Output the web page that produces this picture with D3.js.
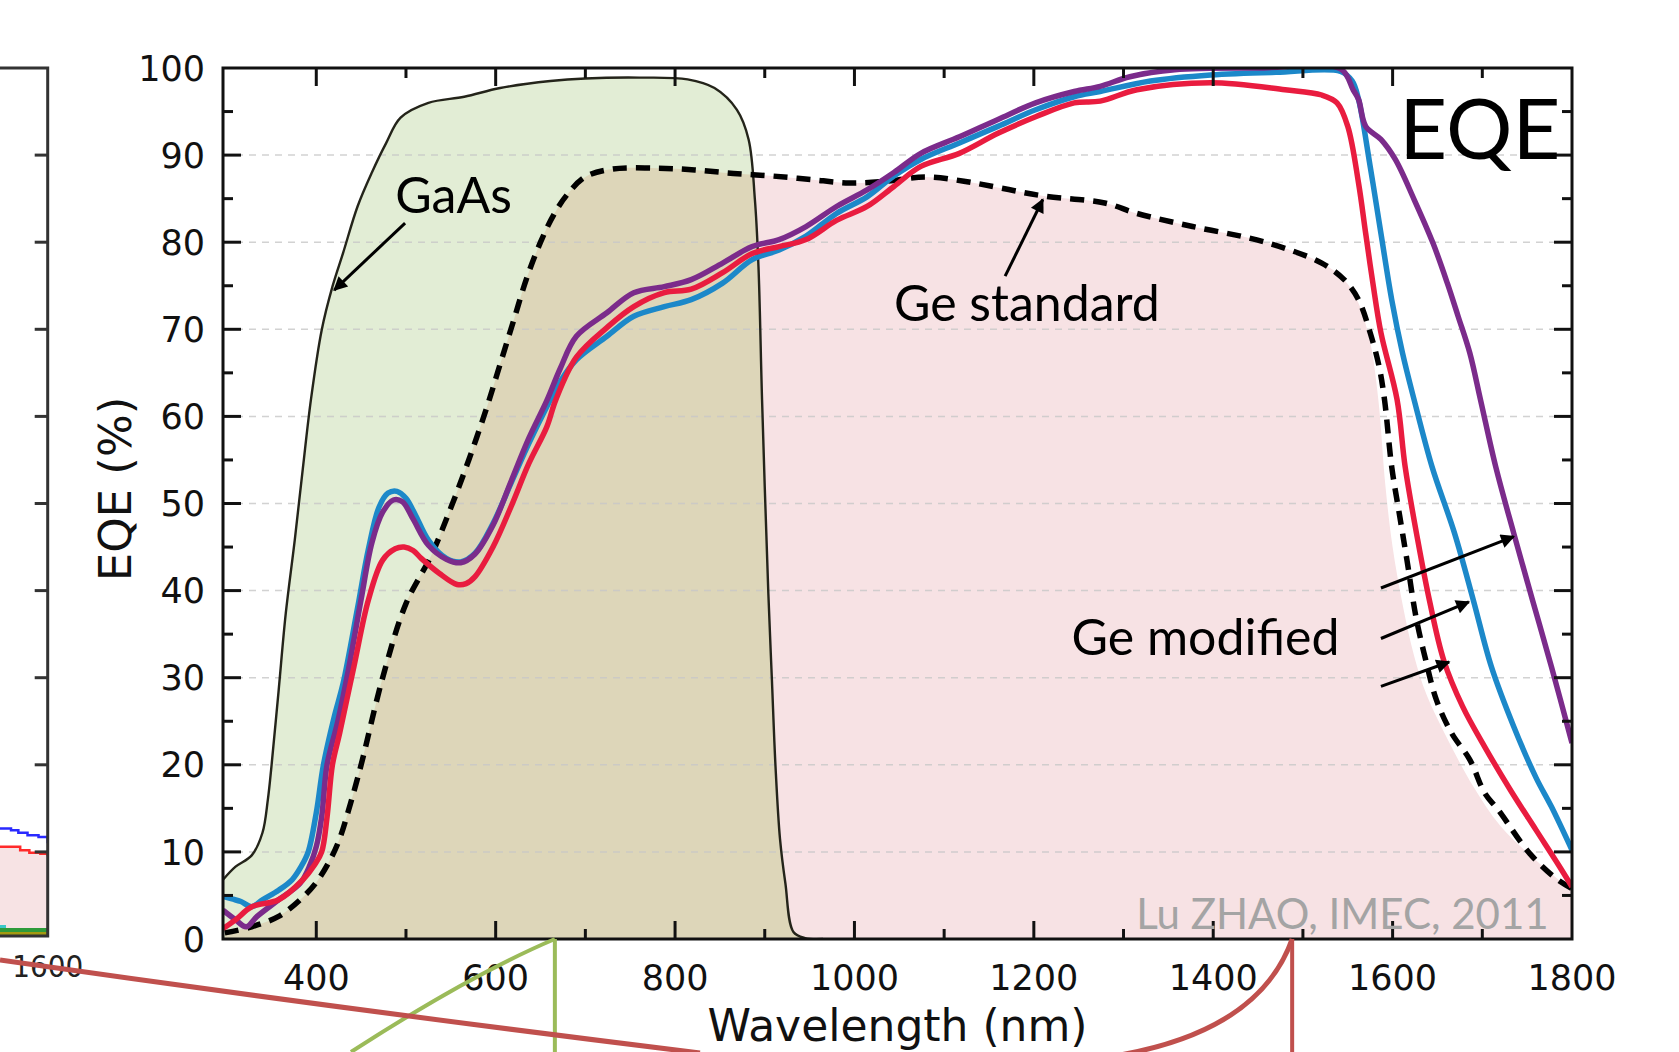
<!DOCTYPE html>
<html>
<head>
<meta charset="utf-8">
<script src="https://cdn.jsdelivr.net/npm/d3@7"></script>
<style>
  body { margin: 0; background: #fff; }
  svg { display: block; }
</style>
</head>
<body>
<svg id="chart" width="1679" height="1052"></svg>
<script>
// EQE curves, [wavelength nm, EQE %]
var gaasEQE = [[296,6.8],[310,8.3],[328,9.6],[340,12.2],[346,16],[350,19.8],[358,28.5],[366,37.4],[376,45.8],[385,54],[394,61.9],[406,69.9],[418,74.9],[430,78.8],[446,84.1],[462,88],[478,91.4],[494,94.3],[525,96],[565,96.7],[605,97.7],[661,98.5],[700,98.8],[760,98.9],[814,98.7],[844,97.7],[869,95.2],[882,91.8],[889,84.9],[893,77.2],[897,61.9],[904,39.7],[908,29.7],[912,19.8],[917,11.5],[923,6.4],[932,0.8],[945,0.1],[965,0]];

var geStandardEQE = [[298,0.7],[328,1.4],[358,2.6],[382,4.5],[400,6.5],[415,9],[426,11.5],[438,15.5],[450,20],[474,30],[500,38.5],[528,44],[550,49.5],[570,55],[590,61],[605,66],[620,71],[635,76],[650,80],[665,83.2],[680,85.5],[700,87.5],[730,88.4],[780,88.5],[822,88.3],[865,87.9],[908,87.6],[951,87.2],[994,86.8],[1036,87],[1079,87.5],[1122,87],[1164,86.2],[1211,85.3],[1279,84.5],[1315,83.3],[1377,81.8],[1439,80.5],[1480,79.3],[1521,77.6],[1546,75.7],[1562,73.4],[1575,69.6],[1585,65.7],[1591,61.9],[1599,54.2],[1608,48.5],[1616,43.5],[1626,37],[1637,32],[1649,27.4],[1666,23.6],[1686,20.6],[1703,16.7],[1718,14.8],[1753,9.8],[1784,6.8],[1800,5.8]];

// the pink shading pulls away from the dashed line on the long-wave side
var geStandardShadeEdge = [[1562,73],[1575,68.5],[1584,62],[1592,52],[1600,45],[1611,38.5],[1624,32.5],[1638,28],[1661,23],[1690,17.5],[1720,13],[1760,9],[1800,5.5]];

var geModBlue = [[296,4.9],[306,4.6],[316,4.3],[328,3.7],[340,4.5],[358,5.6],[373,6.8],[383,8.3],[391,10],[400,14.5],[408,20],[420,25.5],[430,29.4],[446,38],[458,44.7],[470,49.6],[480,51.2],[490,51.4],[500,50.6],[510,48.8],[525,45.8],[545,43.7],[561,43.3],[577,44.3],[597,47.7],[617,52.3],[637,56.9],[657,61.1],[672,64],[690,66.5],[724,69.2],[754,71.5],[788,72.6],[818,73.4],[853,75.3],[886,78],[916,79.1],[946,80.7],[980,83.3],[1014,85.2],[1044,87.6],[1074,89.5],[1117,91.4],[1160,93.3],[1202,95.2],[1245,96.7],[1274,97.3],[1330,98.5],[1397,99.2],[1470,99.5],[1542,99.6],[1555,98.5],[1562,96.4],[1575,88.7],[1587,81],[1599,73.4],[1611,67.3],[1624,61.9],[1644,54.2],[1669,46.6],[1690,38.9],[1710,31.3],[1735,24.4],[1760,18.5],[1777,15.2],[1800,10.2]];

var geModPurple = [[296,3.3],[310,2.2],[322,1.4],[334,2.6],[358,4.5],[382,6.4],[393,8.5],[400,10.6],[406,14],[412,20],[424,25],[436,31],[450,39],[462,45.5],[474,49],[486,50.4],[496,50.2],[508,48.2],[525,45.2],[545,43.6],[561,43.2],[577,44.2],[597,47.5],[617,52.5],[637,57.5],[657,61.8],[672,65.5],[690,69.2],[724,71.9],[754,74.2],[788,74.9],[818,75.7],[853,77.6],[886,79.5],[916,80.3],[946,81.8],[980,84.1],[1014,86],[1044,88],[1074,90.2],[1117,92.1],[1160,94.1],[1202,96],[1245,97.3],[1274,97.9],[1307,99],[1357,99.8],[1450,100],[1542,99.9],[1556,97.5],[1562,96.4],[1570,93.3],[1587,91.8],[1603,89.5],[1624,84.9],[1645,79.9],[1661,75.3],[1673,71.5],[1686,67.3],[1698,61.9],[1715,54.2],[1735,46.6],[1756,38.9],[1777,31.3],[1800,22.5]];

var geModRed = [[296,1.2],[310,2.2],[328,3.7],[358,4.5],[385,6.8],[398,8.5],[406,10],[412,14],[418,20],[426,23.6],[442,31.3],[458,38.9],[474,43.5],[488,44.8],[498,45],[508,44.6],[517,43.7],[537,42],[557,40.7],[567,40.8],[577,41.6],[597,45],[617,49.6],[637,54.6],[657,58.8],[667,61.9],[690,66.8],[724,70.2],[754,72.6],[788,74.2],[818,74.6],[853,76.5],[886,78.7],[916,79.5],[946,80.3],[980,82.5],[1014,84.1],[1044,86.4],[1074,88.7],[1117,90.2],[1160,92.5],[1202,94.4],[1245,96],[1274,96.2],[1315,97.5],[1397,98.3],[1480,97.5],[1521,96.9],[1538,96],[1550,93.3],[1562,86.8],[1570,81],[1578,75.3],[1587,69.6],[1605,61.9],[1614,54.2],[1628,45.8],[1641,38.9],[1657,32],[1678,26.7],[1703,22],[1732,17],[1760,12.5],[1785,8.5],[1800,6]];

// cut-off neighbour chart on the left edge
var leftBlue = [[1548,12.7],[1560,12.5],[1568,12.2],[1578,11.9],[1590,11.7],[1600,11.0]];
var leftRed = [[1548,10.6],[1562,10.6],[1570,10.2],[1580,9.9],[1592,9.8],[1600,9.5]];

var xTicks = [400,600,800,1000,1200,1400,1600,1800];
var xMinorTicks = [500,700,900,1100,1300,1500,1700];
var yTicks = [0,10,20,30,40,50,60,70,80,90,100];
var yMinorTicks = [5,15,25,35,45,55,65,75,85,95];
var leftTicks = [10,20,30,40,50,60,70,80,90];

var notes = [
  {text: "GaAs", nm: 488, eqe: 83.4, size: 50, anchor: "start"},
  {text: "Ge standard", nm: 1044, eqe: 70.9, size: 50, anchor: "start"},
  {text: "Ge modified", nm: 1242, eqe: 32.6, size: 50, anchor: "start"},
  {text: "EQE", nm: 1787, eqe: 89.5, size: 83, anchor: "end"}
];
var arrows = [
  [[499,82.2],[420,74.5]],
  [[1168,76.1],[1210,84.9]],
  [[1587,40.3],[1735,46.2]],
  [[1587,34.5],[1685,38.7]],
  [[1587,29.0],[1663,31.8]]
];

var svg = d3.select("#chart");
var W = 1679, H = 1052;

var x = d3.scaleLinear().domain([296, 1800]).range([223, 1572]);
var y = d3.scaleLinear().domain([0, 100]).range([939, 68]);
var lx = d3.scaleLinear().domain([1548, 1600]).range([0, 47.7]);

var defs = svg.append("defs");
defs.append("clipPath").attr("id", "plotClip")
  .append("rect").attr("x", 223).attr("y", 68).attr("width", 1349).attr("height", 871);

var area = d3.area().x(function(d) { return x(d[0]); }).y0(y(0)).y1(function(d) { return y(d[1]); })
  .curve(d3.curveCatmullRom.alpha(0.5));
var line = d3.line().x(function(d) { return x(d[0]); }).y(function(d) { return y(d[1]); })
  .curve(d3.curveCatmullRom.alpha(0.5));

defs.append("clipPath").attr("id", "gaasClip")
  .append("path").attr("d", area(gaasEQE));

defs.append("marker").attr("id", "head")
  .attr("viewBox", "0 0 10 10").attr("refX", 9).attr("refY", 5)
  .attr("markerUnits", "userSpaceOnUse").attr("markerWidth", 24).attr("markerHeight", 14)
  .attr("orient", "auto")
  .append("path").attr("d", "M0,0 L10,5 L0,10 z").attr("fill", "#000");

// left neighbour chart
var lline = d3.line().x(function(d) { return lx(d[0]); }).y(function(d) { return y(d[1]); }).curve(d3.curveStepAfter);
var left = svg.append("g");
left.append("path")
  .attr("d", d3.area().x(function(d) { return lx(d[0]); }).y0(936).y1(function(d) { return y(d[1]); }).curve(d3.curveStepAfter)(leftRed))
  .attr("fill", "#f7e3e4");
left.append("path").attr("d", lline(leftBlue)).attr("fill", "none").attr("stroke", "#2a2aff").attr("stroke-width", 2.5);
left.append("path").attr("d", lline(leftRed)).attr("fill", "none").attr("stroke", "#ff2a2a").attr("stroke-width", 2.5);
left.append("rect").attr("x", 0).attr("y", 925).attr("width", 6).attr("height", 3).attr("fill", "#3cc8c8");
left.append("rect").attr("x", 0).attr("y", 928).attr("width", 47.7).attr("height", 8).attr("fill", "#2e9a3a");
left.append("rect").attr("x", 0).attr("y", 932).attr("width", 47.7).attr("height", 4).attr("fill", "#a39a10");
left.append("path").attr("d", "M0,68 H" + lx(1600) + " V936 H0")
  .attr("fill", "none").attr("stroke", "#333").attr("stroke-width", 3);
left.selectAll(".lt").data(leftTicks).enter().append("line")
  .attr("x1", lx(1600) - 13).attr("x2", lx(1600)).attr("y1", function(d) { return y(d); }).attr("y2", function(d) { return y(d); })
  .attr("stroke", "#333").attr("stroke-width", 3);
left.append("text").attr("x", lx(1600)).attr("y", 977).attr("text-anchor", "middle")
  .attr("font-family", "DejaVu Sans Condensed, DejaVu Sans").attr("font-size", 31).attr("fill", "#222")
  .text("1600");

// main chart fills
var shade = geStandardEQE.filter(function(d) { return d[0] < 1560; }).concat(geStandardShadeEdge);
var plot = svg.append("g").attr("clip-path", "url(#plotClip)");
plot.append("path").attr("d", area(shade)).attr("fill", "#f7e2e4");
plot.append("path").attr("d", area(gaasEQE)).attr("fill", "#e2edd5");
plot.append("g").attr("clip-path", "url(#gaasClip)")
  .append("path").attr("d", area(geStandardEQE)).attr("fill", "#ddd6b9");

// grid
plot.selectAll(".grid").data(yTicks.slice(1, -1)).enter().append("line")
  .attr("x1", 223).attr("x2", 1572).attr("y1", function(d) { return y(d); }).attr("y2", function(d) { return y(d); })
  .attr("stroke", "#c8c8c8").attr("stroke-width", 1.5).attr("stroke-dasharray", "7,6").attr("opacity", 0.8);

// curves
plot.append("path").attr("d", line(gaasEQE)).attr("fill", "none").attr("stroke", "#24241a").attr("stroke-width", 2.4);
plot.append("path").attr("d", line(geStandardEQE)).attr("fill", "none").attr("stroke", "#000")
  .attr("stroke-width", 5.5).attr("stroke-dasharray", "14,9");
var mods = [[geModBlue, "#1c88c9"], [geModPurple, "#7b2b8b"], [geModRed, "#e91c3f"]];
mods.forEach(function(m) {
  plot.append("path").attr("d", line(m[0])).attr("fill", "none").attr("stroke", m[1])
    .attr("stroke-width", 5.5).attr("stroke-linejoin", "round");
});

// frame and ticks
var ax = svg.append("g").attr("stroke", "#111").attr("stroke-width", 3);
ax.append("rect").attr("x", 223).attr("y", 68).attr("width", 1349).attr("height", 871).attr("fill", "none");
function vTicks(data, len) {
  data.forEach(function(d) {
    ax.append("line").attr("x1", x(d)).attr("x2", x(d)).attr("y1", y(0)).attr("y2", y(0) - len);
    ax.append("line").attr("x1", x(d)).attr("x2", x(d)).attr("y1", y(100)).attr("y2", y(100) + len);
  });
}
function hTicks(data, len) {
  data.forEach(function(d) {
    ax.append("line").attr("x1", 223).attr("x2", 223 + len).attr("y1", y(d)).attr("y2", y(d));
    ax.append("line").attr("x1", 1572).attr("x2", 1572 - len).attr("y1", y(d)).attr("y2", y(d));
  });
}
vTicks(xTicks.slice(0, -1), 18);
vTicks(xMinorTicks, 10);
hTicks(yTicks.slice(1, -1), 18);
hTicks(yMinorTicks, 10);

svg.selectAll(".xl").data(xTicks).enter().append("text")
  .attr("x", function(d) { return x(d); }).attr("y", 990).attr("text-anchor", "middle")
  .attr("font-family", "DejaVu Sans").attr("font-size", 35).attr("fill", "#111")
  .text(function(d) { return d; });
svg.selectAll(".yl").data(yTicks).enter().append("text")
  .attr("x", 205).attr("y", function(d) { return y(d); }).attr("dy", "0.36em").attr("text-anchor", "end")
  .attr("font-family", "DejaVu Sans").attr("font-size", 35).attr("fill", "#111")
  .text(function(d) { return d; });

svg.append("text").attr("x", (x.range()[0] + x.range()[1]) / 2).attr("y", 1041).attr("text-anchor", "middle")
  .attr("font-family", "DejaVu Sans").attr("font-size", 44).attr("fill", "#111")
  .text("Wavelength (nm)");
svg.append("text").attr("transform", "translate(131,489) rotate(-90)").attr("text-anchor", "middle")
  .attr("font-family", "DejaVu Sans").attr("font-size", 45).attr("fill", "#111")
  .text("EQE (%)");

// annotations
svg.selectAll(".note").data(notes).enter().append("text")
  .attr("x", function(d) { return x(d.nm); }).attr("y", function(d) { return y(d.eqe); })
  .attr("text-anchor", function(d) { return d.anchor; })
  .attr("font-family", "Lato").attr("font-size", function(d) { return d.size; }).attr("fill", "#000")
  .text(function(d) { return d.text; });
svg.selectAll(".arrow").data(arrows).enter().append("line")
  .attr("x1", function(d) { return x(d[0][0]); }).attr("y1", function(d) { return y(d[0][1]); })
  .attr("x2", function(d) { return x(d[1][0]); }).attr("y2", function(d) { return y(d[1][1]); })
  .attr("stroke", "#000").attr("stroke-width", 3).attr("marker-end", "url(#head)");

svg.append("text").attr("x", x(1774)).attr("y", y(1.2)).attr("text-anchor", "end")
  .attr("font-family", "Lato").attr("font-size", 42).attr("fill", "#a4a4a4")
  .text("Lu ZHAO, IMEC, 2011");

// slide callout connectors
var call = svg.append("g").attr("fill", "none");
call.append("path").attr("d", "M" + x(666) + "," + y(0) + " V" + H).attr("stroke", "#9bbb59").attr("stroke-width", 4);
call.append("path").attr("d", "M" + x(666) + "," + y(0) + " Q470,975 351," + H).attr("stroke", "#9bbb59").attr("stroke-width", 4);
call.append("path").attr("d", "M0,960 Q350,1010 700,1053").attr("stroke", "#c0504d").attr("stroke-width", 5);
call.append("path").attr("d", "M" + x(1488) + "," + y(0) + " V" + H).attr("stroke", "#c0504d").attr("stroke-width", 4);
call.append("path").attr("d", "M" + x(1488) + "," + y(0) + " Q1260,1030 1120,1055").attr("stroke", "#c0504d").attr("stroke-width", 5);
</script>
</body>
</html>
